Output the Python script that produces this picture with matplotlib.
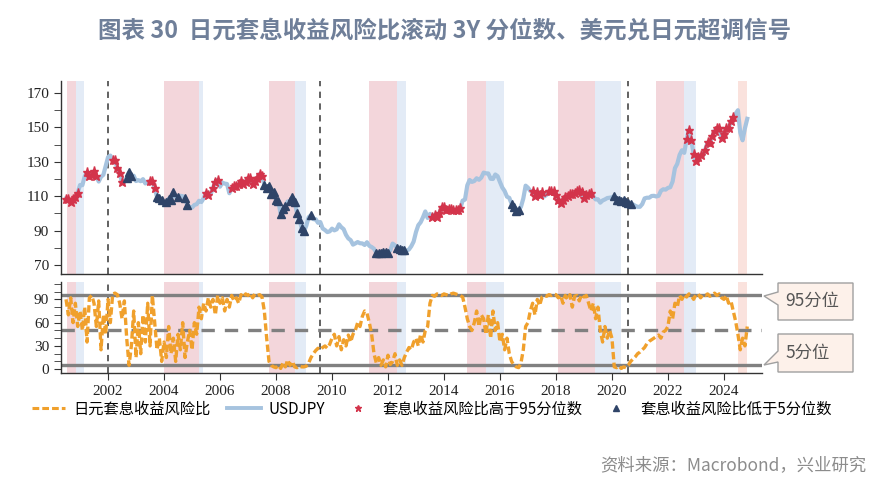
import numpy as np
import matplotlib
matplotlib.use('Agg')
import matplotlib.pyplot as plt
from matplotlib.lines import Line2D
from matplotlib.patches import Polygon
from matplotlib.ticker import MultipleLocator

plt.rcParams['font.family'] = ['Noto Sans CJK SC', 'DejaVu Sans']

# monthly data, first point Jul 2000
start_year = 2000.5

usdjpy = [
    108.5, 108.1, 106.5, 108.4, 109.5, 112.0,  # 2000
    116.5, 116.4, 121.5, 123.8, 122.0, 122.6, 124.6, 121.5, 118.5, 121.3, 122.4, 127.6,  # 2001
    132.7, 133.6, 131.1, 130.8, 126.4, 123.3, 118.1, 119.0, 120.5, 123.9, 121.6, 121.9,  # 2002
    118.8, 119.3, 118.7, 119.9, 117.4, 118.3, 118.7, 118.7, 114.8, 109.5, 109.2, 107.7,  # 2003
    106.3, 106.7, 108.5, 107.7, 112.2, 109.4, 109.4, 110.2, 110.0, 108.8, 104.7, 103.8,  # 2004
    103.3, 104.9, 105.3, 107.3, 106.6, 108.8, 111.9, 110.6, 111.2, 114.9, 118.5, 119.5,  # 2005
    115.5, 117.9, 117.3, 117.1, 111.7, 114.6, 115.7, 115.9, 117.0, 118.6, 117.3, 118.5,  # 2006
    120.6, 120.5, 117.3, 118.8, 120.8, 123.0, 121.6, 116.7, 115.0, 115.8, 111.2, 112.4,  # 2007
    107.8, 107.2, 99.5, 102.6, 104.4, 106.9, 106.9, 109.4, 106.6, 100.1, 96.9, 91.3,  # 2008
    89.5, 92.9, 97.8, 98.9, 96.6, 96.6, 94.5, 94.9, 91.2, 90.3, 89.1, 89.5,  # 2009
    91.1, 90.1, 90.7, 93.6, 91.9, 90.8, 87.5, 85.4, 84.4, 81.8, 82.5, 83.3,  # 2010
    82.6, 82.5, 81.6, 83.2, 81.1, 80.4, 79.4, 77.0, 76.8, 76.7, 77.5, 77.8,  # 2011
    76.9, 78.5, 82.4, 81.4, 79.7, 79.3, 78.9, 78.7, 78.2, 79.0, 80.9, 83.6,  # 2012
    89.1, 93.1, 94.8, 97.7, 101.1, 97.3, 99.7, 97.8, 99.2, 97.8, 100.0, 103.5,  # 2013
    103.9, 102.1, 102.3, 102.5, 101.8, 102.1, 101.7, 102.9, 107.4, 108.0, 116.3, 119.4,  # 2014
    118.3, 118.8, 120.4, 119.5, 120.8, 123.7, 123.3, 123.2, 120.1, 120.0, 122.6, 121.6,  # 2015
    118.2, 115.0, 113.0, 109.7, 109.0, 105.5, 103.9, 101.3, 101.9, 103.8, 108.6, 116.1,  # 2016
    114.9, 113.0, 112.9, 110.0, 112.2, 110.9, 112.4, 109.8, 110.8, 112.9, 112.8, 112.9,  # 2017
    110.9, 107.8, 106.0, 107.6, 109.7, 110.1, 111.5, 111.1, 112.0, 112.8, 113.4, 112.2,  # 2018
    108.9, 110.4, 111.2, 111.6, 109.9, 108.1, 108.2, 106.2, 107.5, 108.1, 108.9, 109.1,  # 2019
    109.3, 110.0, 107.7, 107.8, 107.2, 107.6, 106.8, 106.0, 105.6, 105.2, 104.4, 103.8,  # 2020
    103.8, 105.4, 108.7, 109.1, 109.1, 110.1, 110.2, 109.8, 110.2, 113.1, 114.0, 113.8,  # 2021
    114.8, 115.2, 118.5, 126.3, 128.8, 134.0, 136.7, 135.2, 143.1, 148.5, 142.4, 134.8,  # 2022
    130.4, 132.7, 133.9, 133.5, 137.1, 141.3, 141.2, 144.8, 147.9, 149.6, 149.8, 143.9,  # 2023
    146.3, 149.5, 149.7, 153.6, 155.9, 157.9, 160.0, 147.0, 142.5, 149.5, 155.0,  # 2024
]

risk_pct = [
    90, 70, 92, 60, 85, 55,  # 2000
    75, 50, 80, 35, 92, 95, 85, 55, 88, 25, 70, 45,  # 2001
    90, 60, 97, 98, 96, 85, 65, 88, 40, 5, 30, 75,  # 2002
    15, 60, 20, 70, 35, 85, 30, 95, 60, 25, 40, 10,  # 2003
    35, 15, 55, 20, 40, 10, 45, 25, 60, 15, 35, 50,  # 2004
    25, 60, 45, 80, 65, 85, 75, 92, 80, 90, 70, 95,  # 2005
    85, 92, 75, 90, 80, 95, 88, 92, 85, 96, 93, 97,  # 2006
    95, 98, 92, 97, 95, 96, 93, 75, 40, 10, 5, 3,  # 2007
    2, 5, 1, 8, 3, 12, 5, 10, 3, 2, 4, 3,  # 2008
    3, 4, 8, 15, 20, 24, 27, 25, 28, 30, 27, 32,  # 2009
    40, 45, 30, 42, 25, 38, 30, 44, 35, 45, 50, 60,  # 2010
    55, 68, 75, 72, 60, 45, 20, 8, 15, 5, 12, 3,  # 2011
    18, 6, 10, 20, 5, 12, 5, 15, 22, 28, 25, 35,  # 2012
    40, 30, 45, 35, 50, 55, 85, 95, 94, 97, 96, 95,  # 2013
    97, 96, 95, 97, 98, 97, 96, 95, 93, 80, 65, 55,  # 2014
    50, 60, 75, 55, 70, 65, 45, 70, 40, 75, 50, 60,  # 2015
    35, 45, 25, 40, 20, 10, 5, 3, 2, 8, 25, 55,  # 2016
    60, 75, 85, 70, 90, 82, 93, 95, 94, 96, 95, 97,  # 2017
    96, 92, 95, 85, 95, 90, 96, 80, 94, 95, 88, 96,  # 2018
    93, 95, 85, 75, 85, 65, 80, 50, 35, 55, 40, 50,  # 2019
    40, 3, 2, 4, 1, 3, 2, 5, 10, 13, 16, 20,  # 2020
    22, 25, 28, 33, 36, 38, 40, 42, 44, 40, 48, 50,  # 2021
    55, 75, 65, 85, 80, 95, 90, 96, 93, 97, 95, 90,  # 2022
    96, 97, 92, 96, 95, 97, 94, 96, 98, 95, 97, 92,  # 2023
    90, 95, 85, 88, 75, 62, 45, 25, 40, 30, 55,  # 2024
]

# signal periods (ratio above 95th / below 5th pct)
high_periods = [(2000.5, 2000.92), (2001.24, 2001.6), (2002.1, 2002.55), (2003.5, 2003.68),
                (2005.46, 2005.64), (2005.72, 2005.95), (2006.4, 2007.55), (2013.55, 2014.65),
                (2017.1, 2017.5), (2017.75, 2019.3), (2022.65, 2023.2), (2023.3, 2024.4)]
low_periods = [(2002.65, 2002.85), (2003.68, 2003.95), (2004.05, 2004.35), (2004.42, 2004.5),
               (2004.75, 2004.85), (2007.58, 2008.35), (2008.45, 2009.05), (2009.18, 2009.25),
               (2011.55, 2012.08), (2012.3, 2012.62), (2016.4, 2016.72), (2020.05, 2020.7)]

# shaded bands: (pink start, pink end, blue end)
bands = [(2000.55, 2000.85, 2001.15), (2004.01, 2005.25, 2005.40), (2007.75, 2008.68, 2009.06),
         (2011.32, 2012.33, 2012.64), (2014.82, 2015.50, 2016.13), (2018.08, 2019.40, 2020.31),
         (2021.57, 2022.57, 2022.99)]
last_band = (2024.49, 2024.84)
vlines = [2002.0, 2009.57, 2020.57]

t = start_year + np.arange(len(usdjpy)) / 12.0
fx = np.array(usdjpy)
pct = np.array(risk_pct)

hi = np.zeros(len(t), bool)
for s, e in high_periods:
    hi |= (t >= s) & (t <= e)
lo = np.zeros(len(t), bool)
for s, e in low_periods:
    lo |= (t >= s) & (t <= e)

W, H = 889, 483
fig = plt.figure(figsize=(W / 100, H / 100), dpi=100)
ax1 = fig.add_axes([61 / W, 1 - 273.5 / H, 701 / W, 192.5 / H])
ax2 = fig.add_axes([61 / W, 1 - 372.7 / H, 701 / W, 91.2 / H])

pink, blue = '#f3d6db', '#e3ebf6'
for ax in (ax1, ax2):
    for p0, p1, b1 in bands:
        ax.axvspan(p0, p1, color=pink, lw=0, zorder=0)
        ax.axvspan(p1, b1, color=blue, lw=0, zorder=0)
    ax.axvspan(*last_band, color='#fae2dd', lw=0, zorder=0)
    for v in vlines:
        ax.axvline(v, color='#555555', lw=1.3, ls=(0, (3.5, 3)), zorder=1)
    ax.set_xlim(2000.32, 2025.36)
    for s in ('top', 'right'):
        ax.spines[s].set_visible(False)
    for s in ('left', 'bottom'):
        ax.spines[s].set_color('#333333')
        ax.spines[s].set_linewidth(1.0)
    ax.tick_params(which='both', direction='out', length=5, color='#333333',
                   labelsize=11, labelcolor='#222222')

# top panel: USDJPY with signals
ax1.plot(t, fx, color='#a6c3df', lw=3.0, zorder=2)
ax1.plot(t[hi], fx[hi], ls='none', marker='*', ms=6.5, color='#d3344b', zorder=3)
ax1.plot(t[lo], fx[lo], ls='none', marker='^', ms=5.5, color='#2f4468', zorder=3)
ax1.set_ylim(65, 177)
ax1.set_yticks([70, 90, 110, 130, 150, 170])
ax1.yaxis.set_minor_locator(MultipleLocator(10))
ax1.tick_params(axis='x', which='both', bottom=False, labelbottom=False)

# bottom panel: carry risk ratio percentile
ax2.axhline(95, color='#808080', lw=2.4, zorder=1)
ax2.axhline(5, color='#808080', lw=2.4, zorder=1)
ax2.axhline(50, color='#808080', lw=2.4, ls=(0, (4, 3)), zorder=1)
ax2.plot(t, pct, color='#f0a02c', lw=2.4, ls=(0, (2.2, 1.0)), zorder=2)
ax2.set_ylim(-4.5, 113)
ax2.set_yticks([0, 30, 60, 90])
ax2.yaxis.set_minor_locator(MultipleLocator(10))
ax2.set_xticks(range(2002, 2025, 2))
ax2.tick_params(axis='x', which='minor', bottom=False)

for ax in (ax1, ax2):
    for lab in ax.get_xticklabels() + ax.get_yticklabels():
        lab.set_fontfamily('Liberation Serif')

# callout boxes
def px(x, y):
    return (x / W, 1 - y / H)

box95 = [px(778, 283), px(853, 283), px(853, 320), px(778, 320), px(778, 305), px(764, 296), px(778, 292)]
box5 = [px(778, 334), px(853, 334), px(853, 372), px(778, 372), px(778, 362), px(764, 365), px(778, 351)]
for pts in (box95, box5):
    fig.patches.append(Polygon(pts, closed=True, transform=fig.transFigure,
                               facecolor='#fdf1ea', edgecolor='#a0a0a0', lw=1.0))
fig.text(785 / W, 1 - 301 / H, '95分位', ha='left', va='center', fontsize=12.5, color='#555555')
fig.text(785 / W, 1 - 353 / H, '5分位', ha='left', va='center', fontsize=12.5, color='#555555')

# legend
handles = [
    Line2D([], [], color='#f0a02c', lw=2.2, ls=(0, (2.2, 1.0))),
    Line2D([], [], color='#a6c3df', lw=2.8),
    Line2D([], [], ls='none', marker='*', ms=5, color='#d3344b'),
    Line2D([], [], ls='none', marker='^', ms=4, color='#2f4468'),
]
labels = ['日元套息收益风险比', 'USDJPY', '套息收益风险比高于95分位数', '套息收益风险比低于5分位数']
fig.legend(handles, labels, loc='center', bbox_to_anchor=(0.486, 1 - 409 / H), ncol=4,
           frameon=False, fontsize=11, handlelength=2.2, handletextpad=0.5, columnspacing=1.1)

fig.text(0.5, 1 - 31 / H, '图表 30  日元套息收益风险比滚动 3Y 分位数、美元兑日元超调信号',
         ha='center', va='center', fontsize=16.9, fontweight='bold', color='#6f7f99')
fig.text(866 / W, 1 - 465 / H, '资料来源：Macrobond，兴业研究', ha='right', va='center',
         fontsize=12.5, color='#8c8c8c')

fig.savefig('out.png', dpi=100)
